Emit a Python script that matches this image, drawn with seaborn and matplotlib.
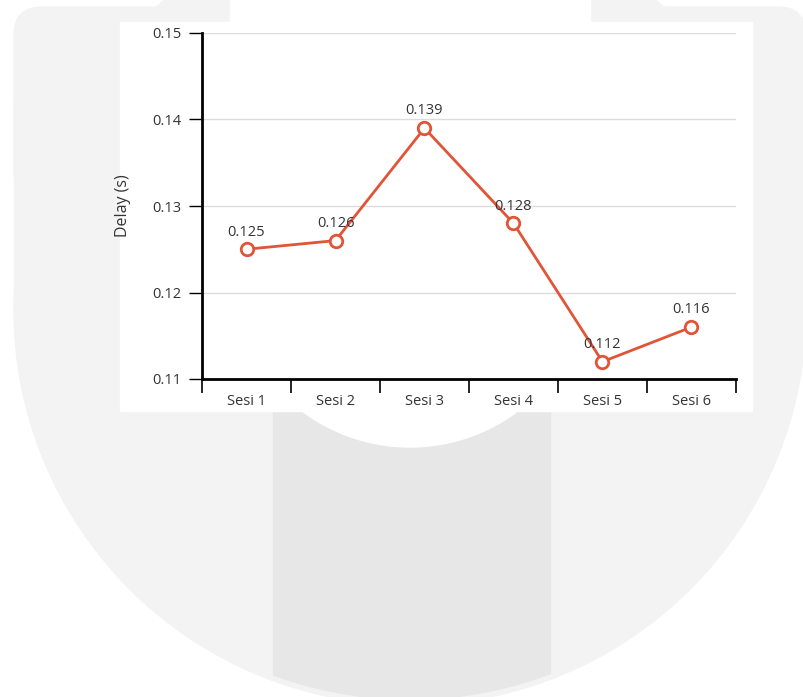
import numpy as np
import matplotlib
matplotlib.use("Agg")
import matplotlib.pyplot as plt
import matplotlib.patches as mpatches
from matplotlib.ticker import FixedLocator, NullFormatter, FixedFormatter
import seaborn as sns

sessions = ["Sesi 1", "Sesi 2", "Sesi 3", "Sesi 4", "Sesi 5", "Sesi 6"]
delays = [0.125, 0.126, 0.139, 0.128, 0.112, 0.116]
y_ticks = [0.11, 0.12, 0.13, 0.14, 0.15]

LINE_COLOR = "#e05438"
TEXT_COLOR = "#333333"

sns.set_style("white")
plt.rcParams["font.family"] = ["Open Sans", "DejaVu Sans"]

W, H = 804, 697
fig = plt.figure(figsize=(W / 100, H / 100), dpi=100)
fig.patch.set_facecolor("white")


def fx(px):
    return px / W


def fy(py):
    return 1 - py / H


# watermark shapes in the background, given in pixels
tr = fig.transFigure
bg_light = "#f3f3f3"
bg_band = "#e7e7e7"
fig.patches.append(mpatches.Ellipse((fx(410), fy(310)), 792 / W, 790 / H,
                                    transform=tr, color=bg_light, zorder=0))
fig.patches.append(mpatches.Rectangle((fx(14), fy(310)), 792 / W, 210 / H,
                                      transform=tr, color=bg_light, zorder=0))
for x0 in (14, 590):
    fig.patches.append(mpatches.FancyBboxPatch((fx(x0), fy(200)), 216 / W, 193 / H,
                                               boxstyle="round,pad=0,rounding_size=0.035",
                                               mutation_aspect=W / H,
                                               transform=tr, color=bg_light, zorder=0))
band_clip = mpatches.Ellipse((fx(410), fy(305)), 792 / W, 790 / H,
                             transform=tr, visible=False)
fig.patches.append(band_clip)
band = mpatches.Rectangle((fx(273), fy(697)), 277 / W, 450 / H,
                          transform=tr, color=bg_band, zorder=0.5)
band.set_clip_path(band_clip)
fig.patches.append(band)
fig.patches.append(mpatches.Rectangle((fx(230), fy(267)), 360 / W, 290 / H,
                                      transform=tr, color="white", zorder=1))
fig.patches.append(mpatches.Ellipse((fx(410), fy(267)), 360 / W, 360 / H,
                                    transform=tr, color="white", zorder=1))
# white chart card
fig.patches.append(mpatches.Rectangle((fx(120), fy(411)), 632 / W, 389 / H,
                                      transform=tr, color="white", zorder=2))

ax = fig.add_axes([fx(202), fy(379), (736 - 202) / W, (379 - 33) / H])
ax.set_zorder(3)
ax.patch.set_alpha(0)

x_pos = np.arange(len(sessions))
sns.lineplot(x=x_pos, y=delays, ax=ax, color=LINE_COLOR, linewidth=2,
             marker="o", markersize=9, markerfacecolor="white",
             markeredgecolor=LINE_COLOR, markeredgewidth=2, zorder=4)

for i, v in enumerate(delays):
    ax.annotate(f"{v:.3f}", (i, v), xytext=(0, 7), textcoords="offset points",
                ha="center", va="bottom", fontsize=10.5, color=TEXT_COLOR, zorder=5)

ax.set_xlim(-0.5, len(sessions) - 0.5)
ax.set_ylim(0.11, 0.15)

# band-style x axis: ticks at boundaries, labels at centers
ax.xaxis.set_major_locator(FixedLocator(np.arange(-0.5, len(sessions), 1.0)))
ax.xaxis.set_major_formatter(NullFormatter())
ax.xaxis.set_minor_locator(FixedLocator(x_pos))
ax.xaxis.set_minor_formatter(FixedFormatter(sessions))
ax.tick_params(axis="x", which="major", bottom=True, length=10, width=1.2,
               color="black", direction="out")
ax.tick_params(axis="x", which="minor", bottom=True, length=0, pad=10.5,
               labelsize=10.5, labelcolor=TEXT_COLOR)

ax.set_yticks(y_ticks)
ax.set_yticklabels([f"{t:.2f}" for t in y_ticks])
ax.tick_params(axis="y", left=True, length=9.5, width=1, color="black", direction="out",
               labelsize=10.5, labelcolor=TEXT_COLOR, pad=5)

ax.yaxis.grid(True, color="#dcdcdc", linewidth=1)
ax.xaxis.grid(False)
ax.set_axisbelow(True)

for side in ["top", "right"]:
    ax.spines[side].set_visible(False)
for side in ["left", "bottom"]:
    ax.spines[side].set_color("black")
    ax.spines[side].set_linewidth(2)

ax.set_xlabel("")
ax.set_ylabel("Delay (s)", fontsize=11.5, color=TEXT_COLOR)
ax.yaxis.set_label_coords(-(202 - 131) / (736 - 202), 0.5)

fig.savefig("out.png", dpi=100)
